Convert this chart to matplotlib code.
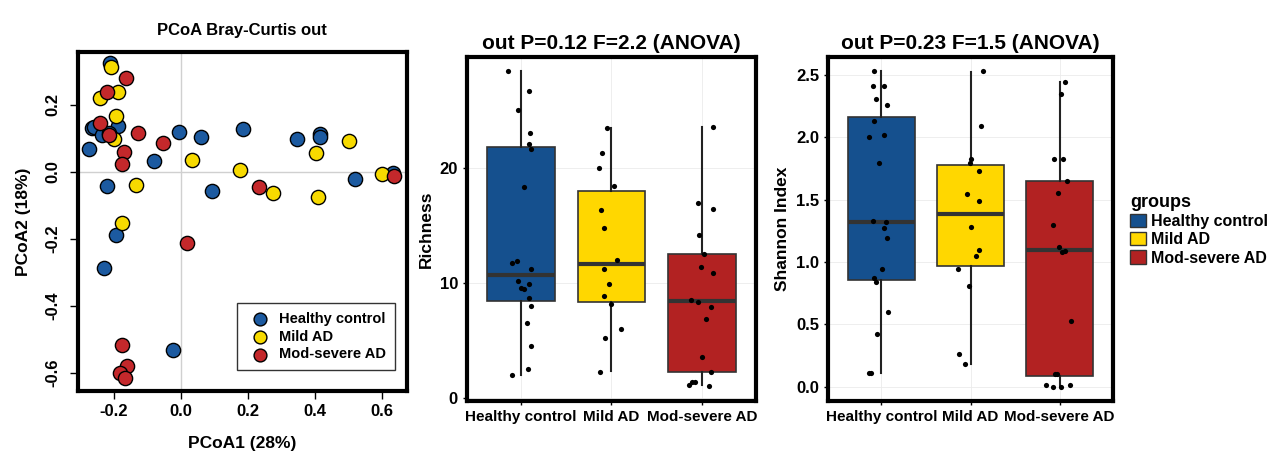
import numpy as np
import matplotlib
matplotlib.use("Agg")
import matplotlib.pyplot as plt
from matplotlib.patches import Patch

plt.rcParams["font.family"] = ["Liberation Sans", "DejaVu Sans"]
plt.rcParams["font.weight"] = "bold"
plt.rcParams["axes.unicode_minus"] = False

groups = ["Healthy control", "Mild AD", "Mod-severe AD"]
colors = ["#15508E", "#FFD700", "#B22222"]
scatter_colors = ["#1C5AA0", "#F7DA00", "#C4282B"]

# ---- PCoA coordinates
pcoa_healthy_x = [-0.212, -0.266, -0.258, -0.187, -0.234, -0.274, -0.081, -0.005, 0.060, 0.185,
                  0.094, 0.348, 0.416, 0.416, 0.519, 0.632, -0.220, -0.192, -0.229, -0.023, -0.215]
pcoa_healthy_y = [0.324, 0.132, 0.133, 0.137, 0.110, 0.068, 0.033, 0.120, 0.104, 0.129,
                  -0.057, 0.098, 0.113, 0.105, -0.022, -0.002, -0.042, -0.188, -0.288, -0.533, 0.115]
pcoa_mild_x = [-0.209, -0.186, -0.240, -0.194, -0.200, 0.032, 0.177, 0.276, 0.403, 0.410,
               0.501, 0.602, -0.135, -0.175]
pcoa_mild_y = [0.313, 0.240, 0.222, 0.168, 0.098, 0.035, 0.006, -0.064, 0.055, -0.074,
               0.093, -0.007, -0.039, -0.153]
pcoa_mod_x = [-0.165, -0.219, -0.240, -0.214, -0.129, -0.169, -0.176, -0.052, 0.232, 0.637,
              0.019, -0.176, -0.161, -0.181, -0.166]
pcoa_mod_y = [0.280, 0.238, 0.145, 0.110, 0.117, 0.060, 0.024, 0.086, -0.044, -0.012,
              -0.213, -0.516, -0.579, -0.601, -0.615]

# ---- Richness: box stats (q1, median, q3, whisker low, whisker high)
rich_q1 = [8.46, 8.4, 2.3]
rich_med = [10.7, 11.7, 8.43]
rich_q3 = [21.85, 18.0, 12.55]
rich_lo = [2.0, 2.35, 1.1]
rich_hi = [28.5, 23.5, 23.6]

rich_healthy = [28.5, 26.7, 25.1, 23.1, 22.1, 21.7, 18.4, 11.8, 11.9, 11.25,
                10.2, 9.6, 9.5, 9.9, 8.7, 8.0, 6.5, 4.55, 2.5, 2.0]
rich_healthy_jit = [-0.14, 0.09, -0.03, 0.10, 0.09, 0.11, 0.03, -0.10, -0.05, 0.11,
                    -0.04, 0.0, 0.03, 0.09, 0.09, 0.11, 0.06, 0.11, 0.08, -0.10]
rich_mild = [23.5, 21.3, 20.0, 18.5, 16.4, 14.8, 12.0, 11.25, 9.9, 8.85, 8.2, 6.0, 5.25, 2.3]
rich_mild_jit = [-0.05, -0.10, -0.14, 0.03, -0.12, -0.08, 0.06, -0.08, -0.03, -0.08, 0.0, 0.11, -0.07, -0.13]
rich_mod = [23.6, 17.0, 16.5, 14.2, 12.55, 11.45, 10.9, 8.5, 8.4, 7.9, 6.85, 3.55, 2.3,
            1.1, 1.4, 1.4, 1.05]
rich_mod_jit = [0.12, -0.04, 0.12, -0.03, 0.03, -0.01, 0.12, -0.12, -0.04, 0.10, 0.05, 0.0, 0.10,
                -0.14, -0.11, -0.07, 0.08]

# ---- Shannon index
shan_q1 = [0.859, 0.971, 0.088]
shan_med = [1.322, 1.389, 1.095]
shan_q3 = [2.167, 1.777, 1.653]
shan_lo = [0.107, 0.182, 0.005]
shan_hi = [2.534, 2.528, 2.448]

shan_healthy = [2.534, 2.411, 2.413, 2.306, 2.261, 2.132, 2.004, 2.017, 1.793, 1.330,
                1.324, 1.271, 1.191, 0.942, 0.875, 0.840, 0.602, 0.425, 0.110, 0.107]
shan_healthy_jit = [-0.08, -0.10, 0.03, -0.06, 0.06, -0.08, -0.14, 0.03, -0.03, -0.09,
                    0.05, 0.03, 0.06, 0.01, -0.08, -0.06, 0.07, -0.05, -0.12, -0.14]
shan_mild = [2.534, 2.092, 1.830, 1.793, 1.734, 1.544, 1.490, 1.284, 1.097, 1.049,
             0.945, 0.808, 0.262, 0.180]
shan_mild_jit = [0.14, 0.12, 0.01, -0.01, 0.09, -0.04, 0.09, 0.01, 0.10, 0.06, -0.14, -0.02, -0.13, -0.06]
shan_mod = [2.448, 2.352, 1.830, 1.830, 1.653, 1.552, 1.295, 1.124, 1.083, 1.087,
            0.530, 0.099, 0.100, 0.011, 0.0, 0.0, 0.011]
shan_mod_jit = [0.06, 0.02, -0.06, 0.04, 0.08, -0.02, -0.07, -0.01, 0.03, 0.06,
                0.13, -0.03, -0.05, -0.15, -0.08, 0.01, 0.12]

fig = plt.figure(figsize=(12.8, 4.68), dpi=100)

# ---------------- PCoA panel
ax1 = fig.add_axes([0.0609, 0.1645, 0.257, 0.7244])
ax1.axhline(0, color="#d0d0d0", lw=1, zorder=0)
ax1.axvline(0, color="#d0d0d0", lw=1, zorder=0)
for xs, ys, c, lab in zip([pcoa_healthy_x, pcoa_mild_x, pcoa_mod_x],
                          [pcoa_healthy_y, pcoa_mild_y, pcoa_mod_y],
                          scatter_colors, groups):
    ax1.scatter(xs, ys, s=105, c=c, edgecolors="black", linewidths=1, label=lab, zorder=3)
ax1.set_xlim(-0.307, 0.675)
ax1.set_ylim(-0.654, 0.358)
ax1.set_xticks([-0.2, 0.0, 0.2, 0.4, 0.6])
ax1.set_yticks([0.2, 0.0, -0.2, -0.4, -0.6])
ax1.tick_params(labelsize=12, length=6, width=1)
ax1.tick_params(axis="y", pad=7)
for lbl in ax1.get_yticklabels():
    lbl.set_rotation(90)
    lbl.set_va("center")
for sp in ax1.spines.values():
    sp.set_linewidth(3)
ax1.set_title("PCoA Bray-Curtis out", fontsize=12, fontweight="bold", pad=12)
ax1.set_xlabel("PCoA1 (28%)", fontsize=12.5, fontweight="bold", labelpad=12)
ax1.set_ylabel("PCoA2 (18%)", fontsize=12.5, fontweight="bold", labelpad=10)
leg = ax1.legend(loc="lower right", fontsize=10.5, fancybox=False, edgecolor="black",
                 handletextpad=0.3, borderpad=0.6, labelspacing=0.25, markerscale=0.9,
                 bbox_to_anchor=(0.985, 0.04))
leg.get_frame().set_linewidth(1)


def box_panel(ax, q1, med, q3, lo, hi, pts, jits, ylabel, title, ylim, yticks):
    stats = []
    for i in range(3):
        stats.append({"q1": q1[i], "med": med[i], "q3": q3[i],
                      "whislo": lo[i], "whishi": hi[i], "fliers": []})
    ax.grid(True, color="#EBEBEB", lw=0.6, zorder=0)
    ax.set_axisbelow(True)
    bp = ax.bxp(stats, positions=[1, 2, 3], widths=0.75, patch_artist=True,
                showfliers=False, showcaps=False,
                boxprops=dict(edgecolor="#333333", linewidth=1.2),
                medianprops=dict(color="#333333", linewidth=3),
                whiskerprops=dict(color="#222222", linewidth=1.5))
    for patch, c in zip(bp["boxes"], colors):
        patch.set_facecolor(c)
    for i, (vals, jit) in enumerate(zip(pts, jits)):
        ax.scatter(np.array(jit) + i + 1, vals, s=14, c="black", zorder=5, linewidths=0)
    ax.set_xlim(0.4, 3.6)
    ax.set_ylim(*ylim)
    ax.set_yticks(yticks)
    ax.set_xticks([1, 2, 3])
    ax.set_xticklabels(groups)
    ax.tick_params(labelsize=11, length=3, width=1, colors="black")
    ax.tick_params(axis="y", labelsize=12)
    for sp in ax.spines.values():
        sp.set_linewidth(3)
    ax.set_ylabel(ylabel, fontsize=12.5, fontweight="bold", labelpad=4)
    ax.set_title(title, fontsize=15, fontweight="bold", pad=6)


ax2 = fig.add_axes([0.3648, 0.1432, 0.2258, 0.735])
box_panel(ax2, rich_q1, rich_med, rich_q3, rich_lo, rich_hi,
          [rich_healthy, rich_mild, rich_mod],
          [rich_healthy_jit, rich_mild_jit, rich_mod_jit],
          "Richness", "out P=0.12 F=2.2 (ANOVA)", (-0.26, 29.7), [0, 10, 20])

ax3 = fig.add_axes([0.6469, 0.1432, 0.2227, 0.735])
box_panel(ax3, shan_q1, shan_med, shan_q3, shan_lo, shan_hi,
          [shan_healthy, shan_mild, shan_mod],
          [shan_healthy_jit, shan_mild_jit, shan_mod_jit],
          "Shannon Index", "out P=0.23 F=1.5 (ANOVA)", (-0.115, 2.645),
          [0.0, 0.5, 1.0, 1.5, 2.0, 2.5])
ax3.set_yticklabels(["0.0", "0.5", "1.0", "1.5", "2.0", "2.5"])

handles = [Patch(facecolor=c, edgecolor="#333333", linewidth=1) for c in colors]
fig.legend(handles, groups, title="groups", loc="upper left",
           bbox_to_anchor=(0.878, 0.6), frameon=False, fontsize=11.5,
           title_fontproperties={"weight": "bold", "size": 13},
           handlelength=1.0, handleheight=0.9, handletextpad=0.3,
           labelspacing=0.2, alignment="left", borderaxespad=0)

fig.savefig("out.png", dpi=100)
